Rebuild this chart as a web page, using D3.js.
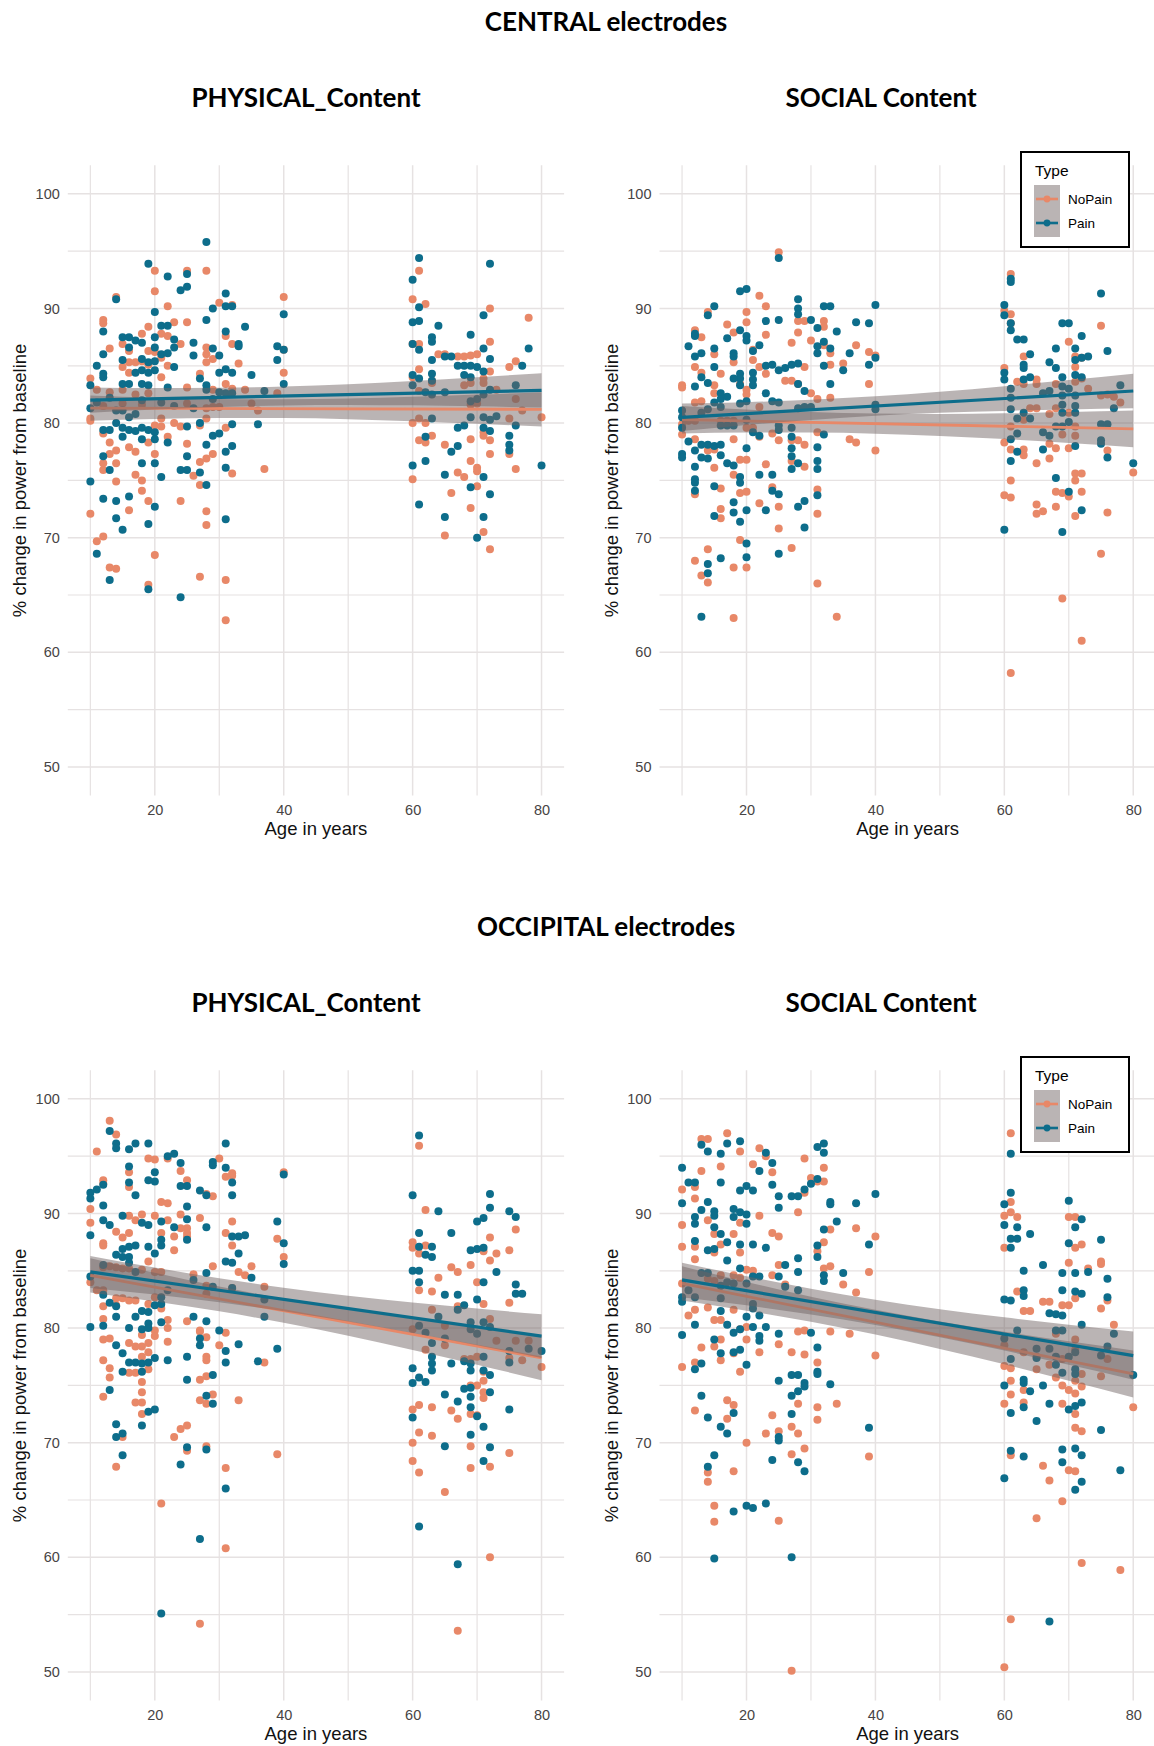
<!DOCTYPE html>
<html>
<head>
<meta charset="utf-8">
<script src="https://cdn.jsdelivr.net/npm/d3@7"></script>
<style>
  body { margin: 0; background: #fff; }
  svg { display: block; }
</style>
</head>
<body>
<div id="chart"></div>
<script>
// ---- values: [age, % change] ----
var rowTitles = ["CENTRAL electrodes", "OCCIPITAL electrodes"];
var panelTitles = ["PHYSICAL_Content", "SOCIAL Content"];
var groups = ["NoPain", "Pain"];
var ageTicks = [20, 40, 60, 80];
var ageMinor = [10, 30, 50, 70];
var valueTicks = [50, 60, 70, 80, 90, 100];
var valueMinor = [55, 65, 75, 85, 95];

var centralPhysicalPain = [[28,95.8],[19,93.9],[22,92.8],[25,93.0],[25,91.9],[24,91.6],[14,90.8],[31,91.3],[29,90.0],[31,90.2],[32,90.2],[20,89.7],[40,89.5],[28,89.0],[34,88.4],[21,88.5],[22,88.5],[12,88.0],[15,87.5],[16,87.5],[20,87.5],[31,88.0],[17,87.2],[18,87.0],[23,87.3],[23,86.6],[26,87.0],[33,86.9],[33,86.7],[29,86.5],[39,86.7],[40,86.4],[16,86.6],[20,86.6],[30,85.9],[12,86.0],[26,85.9],[18,85.6],[19,85.3],[20,85.4],[15,85.5],[21,86.0],[22,86.1],[11,85.0],[23,84.9],[31,84.7],[30,84.4],[39,85.5],[32,84.4],[35,84.2],[17,84.4],[18,84.6],[19,84.4],[20,84.6],[12,84.3],[12,84.0],[27,83.9],[15,83.4],[16,83.4],[18,83.4],[19,83.3],[10,83.3],[22,83.1],[28,83.3],[28,82.9],[31,82.6],[32,82.6],[37,82.8],[40,83.4],[30,82.7],[10,81.3],[14,81.1],[15,81.1],[16,80.5],[17,80.8],[12,79.4],[13,79.4],[14,80.0],[15,79.6],[16,79.4],[17,79.3],[18,79.6],[19,79.4],[20,79.2],[25,79.7],[27,80.0],[32,79.9],[36,79.9],[15,78.8],[18,78.6],[20,78.6],[22,78.3],[29,78.9],[30,79.1],[28,78.1],[32,78.0],[31,77.5],[25,77.1],[12,77.1],[18,76.5],[20,76.5],[24,75.9],[25,75.9],[27,75.7],[31,76.1],[13,75.9],[21,75.3],[28,74.6],[10,74.9],[12,73.4],[14,73.2],[16,73.6],[20,72.7],[14,71.7],[15,70.7],[19,71.2],[31,71.6],[11,68.6],[13,66.3],[19,65.5],[24,64.8],[11,81.8],[13,82.2],[18,82.0],[21,81.8],[23,81.5],[26,81.3],[29,82.1],
  [61,94.4],[60,92.5],[72,93.9],[61,90.1],[60,88.8],[61,88.9],[71,89.4],[64,88.5],[69,87.7],[60,86.9],[61,86.4],[63,87.5],[63,87.1],[71,86.5],[72,85.6],[78,86.5],[63,85.5],[65,85.8],[66,85.8],[67,85.0],[68,85.0],[69,85.0],[70,84.9],[77,85.0],[60,84.2],[61,83.9],[63,84.3],[63,83.7],[68,84.2],[69,84.0],[71,84.5],[60,83.3],[76,83.3],[62,82.7],[63,82.5],[65,82.7],[69,81.9],[70,82.1],[71,82.5],[72,82.9],[73,80.6],[69,80.5],[71,80.5],[72,80.3],[63,80.4],[76,79.8],[67,79.6],[68,79.8],[62,78.8],[71,79.6],[72,79.3],[75,78.9],[75,78.1],[75,77.6],[66,77.5],[67,78.0],[62,76.7],[60,76.3],[80,76.3],[65,75.5],[71,75.3],[69,74.4],[72,73.8],[61,72.9],[65,71.8],[71,71.8],[70,70.0]];

var centralPhysicalNoPain = [[28,93.3],[20,93.3],[25,93.3],[20,91.5],[14,91.0],[40,91.0],[22,90.2],[30,90.5],[32,90.3],[12,89.0],[12,88.7],[25,88.8],[19,88.4],[23,88.8],[18,87.8],[15,86.9],[21,87.8],[22,87.6],[13,86.5],[28,86.6],[28,86.0],[31,87.6],[32,86.9],[24,86.9],[16,86.3],[19,86.3],[20,86.2],[40,86.4],[29,85.6],[15,84.9],[16,85.3],[17,85.3],[18,85.4],[19,85.1],[21,85.7],[22,85.0],[28,85.3],[33,85.2],[16,84.4],[21,84.0],[27,84.3],[10,83.9],[40,84.4],[31,83.4],[11,82.9],[13,82.7],[15,82.9],[17,82.5],[19,82.6],[25,83.1],[29,82.9],[32,83.0],[34,82.9],[12,81.5],[15,81.7],[18,81.6],[25,81.7],[28,81.3],[29,81.4],[30,81.4],[35,81.7],[36,81.1],[39,82.6],[10,80.4],[10,80.2],[12,79.1],[21,80.4],[21,79.7],[22,78.8],[23,80.0],[24,79.7],[20,79.8],[27,79.8],[28,80.4],[31,79.6],[13,78.3],[14,77.6],[13,77.3],[16,77.9],[17,77.5],[19,78.3],[20,77.3],[12,76.5],[12,75.9],[14,76.5],[25,78.2],[27,76.6],[28,76.9],[29,77.3],[37,76.0],[32,75.6],[17,75.5],[18,75.0],[26,75.4],[27,74.6],[14,74.9],[18,74.1],[24,73.2],[19,73.2],[16,72.4],[28,72.3],[28,71.1],[10,72.1],[11,69.7],[12,70.1],[20,68.5],[13,67.4],[14,67.3],[27,66.6],[31,66.3],[19,65.9],[31,62.8],
  [61,93.3],[72,90.0],[62,90.4],[60,90.8],[78,89.2],[60,86.9],[61,86.9],[72,87.1],[64,86.0],[65,86.0],[67,85.8],[68,85.8],[69,85.9],[70,86.0],[75,84.9],[76,85.4],[61,84.7],[72,84.5],[63,83.7],[63,83.5],[60,84.0],[61,82.8],[68,83.3],[69,83.5],[71,83.9],[71,83.5],[73,82.9],[76,82.1],[77,81.1],[69,81.6],[70,81.7],[60,80.0],[61,80.4],[62,80.0],[80,80.5],[75,80.4],[71,79.2],[71,78.9],[72,78.5],[61,78.5],[62,78.3],[63,78.9],[69,78.6],[65,78.1],[76,76.0],[67,75.7],[68,75.3],[69,76.7],[70,76.1],[70,75.8],[60,75.1],[72,77.3],[75,77.3],[66,73.9],[70,74.5],[69,72.6],[71,70.5],[65,70.2],[72,69.0]];

var centralSocialPain = [[25,94.4],[19,91.5],[20,91.7],[15,90.2],[14,89.4],[28,90.8],[28,90.0],[28,89.5],[32,90.2],[33,90.2],[40,90.3],[25,89.0],[23,88.9],[30,89.0],[37,88.8],[39,88.7],[31,88.3],[12,87.8],[12,87.6],[19,88.1],[20,87.6],[20,87.2],[17,87.4],[32,87.1],[34,88.0],[11,86.7],[22,86.8],[15,86.5],[21,86.3],[31,86.7],[31,86.1],[33,86.5],[12,85.8],[13,86.1],[18,86.1],[18,85.8],[36,86.1],[15,84.9],[23,85.0],[24,85.1],[25,84.6],[26,84.8],[27,85.1],[28,85.2],[32,85.0],[39,85.1],[40,85.7],[35,84.6],[13,84.0],[12,83.2],[19,84.3],[19,83.9],[19,83.3],[21,84.4],[21,83.8],[21,83.3],[14,83.5],[18,83.9],[16,82.6],[16,82.1],[17,82.3],[28,83.4],[29,82.8],[33,83.4],[23,82.6],[20,81.9],[19,81.7],[24,81.9],[25,81.8],[15,81.8],[16,81.4],[10,81.1],[10,80.5],[14,81.2],[13,80.9],[28,81.3],[29,81.4],[30,81.4],[40,81.6],[40,81.2],[16,79.8],[17,79.8],[18,79.8],[20,80.3],[25,79.8],[25,79.4],[21,79.2],[27,79.6],[27,78.8],[32,79.0],[10,79.6],[10,77.3],[10,77.0],[11,78.4],[12,77.6],[13,78.1],[14,78.1],[15,78.0],[16,78.1],[20,77.8],[22,78.9],[27,77.8],[27,77.1],[31,77.9],[31,76.7],[31,76.0],[12,76.2],[13,77.0],[14,76.9],[16,77.2],[17,76.5],[18,76.3],[19,75.3],[19,74.8],[22,75.5],[24,75.5],[27,76.0],[28,76.5],[15,74.5],[12,75.1],[12,74.8],[12,74.1],[24,74.1],[25,73.8],[31,73.7],[18,73.1],[15,71.9],[18,72.2],[19,71.4],[20,72.4],[23,72.4],[28,72.7],[29,73.2],[29,70.9],[20,69.5],[20,68.3],[14,67.7],[14,66.9],[16,68.2],[25,68.6],[13,63.1],
  [61,92.6],[61,92.3],[60,90.3],[60,89.4],[75,91.3],[61,88.7],[61,88.1],[69,88.7],[70,88.7],[62,87.3],[63,87.3],[72,87.6],[76,86.3],[68,86.5],[64,86.0],[71,86.5],[71,85.5],[73,85.8],[72,85.7],[63,85.1],[63,84.8],[67,85.3],[68,84.8],[60,84.4],[60,83.8],[64,84.0],[63,83.8],[69,84.0],[71,84.2],[78,83.3],[72,84.0],[61,83.0],[61,82.2],[61,81.2],[66,82.6],[67,82.8],[69,83.2],[69,82.4],[69,81.6],[69,80.9],[70,83.0],[71,82.4],[71,81.5],[71,80.9],[63,80.9],[64,80.4],[62,80.4],[77,81.3],[75,79.9],[76,79.9],[61,78.6],[62,79.1],[66,79.2],[67,78.9],[68,79.7],[69,79.7],[70,80.1],[71,78.0],[75,78.5],[75,78.2],[76,77.0],[61,76.7],[62,77.5],[66,77.7],[68,75.2],[70,74.0],[72,72.4],[69,70.5],[60,70.7],[80,76.5]];

var centralSocialNoPain = [[25,94.9],[22,91.1],[23,90.2],[14,89.7],[20,89.7],[28,88.9],[29,88.9],[32,88.9],[32,88.4],[17,88.6],[18,87.9],[23,87.7],[12,88.1],[13,87.5],[20,88.8],[27,87.0],[28,87.9],[30,87.2],[32,86.8],[33,86.1],[37,86.8],[39,86.2],[40,85.9],[15,86.0],[21,86.4],[21,85.5],[18,85.3],[12,84.9],[13,84.4],[16,84.3],[22,84.9],[23,84.3],[29,84.9],[33,85.1],[35,85.2],[27,83.7],[28,83.4],[10,83.3],[10,83.1],[15,83.3],[15,82.6],[19,83.4],[20,82.9],[20,82.5],[30,82.6],[39,83.4],[12,81.8],[13,81.9],[22,81.4],[26,83.7],[31,82.1],[33,82.2],[10,79.9],[10,79.0],[11,80.2],[12,80.2],[16,80.2],[17,80.2],[18,80.2],[20,79.6],[21,79.6],[22,78.8],[24,79.1],[25,78.5],[27,78.5],[28,78.5],[29,78.1],[31,79.2],[36,78.6],[37,78.3],[40,77.6],[12,78.6],[14,77.6],[15,77.7],[15,76.1],[18,78.6],[18,75.5],[19,76.8],[20,76.8],[23,76.4],[24,74.4],[25,72.7],[27,76.7],[29,76.2],[12,73.8],[16,74.3],[19,73.9],[20,74.0],[22,73.0],[25,70.8],[31,74.2],[31,72.1],[16,72.5],[16,71.7],[19,69.8],[27,69.1],[12,68.0],[13,66.7],[14,69.0],[14,66.1],[18,67.4],[20,67.4],[31,66.0],[18,63.0],[34,63.1],
  [61,93.0],[61,89.5],[61,88.7],[60,89.8],[75,88.5],[70,87.1],[63,85.8],[71,85.8],[71,84.9],[71,83.6],[72,85.7],[72,83.9],[60,84.8],[62,83.6],[65,83.8],[65,83.4],[63,83.4],[68,83.4],[73,83.0],[76,82.5],[77,82.3],[78,81.8],[75,82.4],[64,81.3],[65,81.3],[67,80.8],[61,79.7],[63,80.3],[68,81.3],[69,79.0],[70,80.9],[71,79.7],[71,78.9],[60,78.3],[61,77.7],[63,77.7],[63,77.2],[67,78.2],[68,77.8],[70,77.8],[65,76.5],[67,76.9],[76,77.6],[71,75.6],[71,75.0],[72,75.6],[80,75.7],[61,75.0],[68,74.0],[69,73.9],[70,73.6],[60,73.7],[61,73.5],[68,72.7],[65,72.9],[65,72.1],[66,72.3],[71,71.9],[76,72.2],[72,74.0],[75,68.6],[69,64.7],[72,61.0],[61,58.2]];

var occipitalPhysicalPain = [[13,97.2],[14,96.1],[14,95.7],[17,96.1],[16,95.6],[19,96.1],[31,96.1],[22,95.0],[23,95.2],[29,94.5],[29,94.2],[31,94.0],[16,94.1],[16,92.7],[20,93.6],[20,92.8],[19,92.9],[24,94.4],[32,92.7],[40,93.4],[24,92.4],[25,92.4],[10,91.8],[10,91.3],[11,92.1],[12,92.5],[17,91.6],[27,92.0],[28,91.6],[32,91.6],[12,90.7],[25,90.6],[15,89.8],[10,88.1],[12,89.4],[13,89.0],[18,89.2],[19,89.0],[21,89.3],[25,89.5],[23,88.8],[28,88.8],[39,89.3],[32,88.0],[33,88.0],[34,88.1],[40,87.4],[15,86.9],[16,87.1],[17,87.2],[19,87.1],[21,87.7],[21,87.2],[25,87.7],[14,86.4],[20,86.5],[15,86.2],[16,86.2],[16,85.7],[31,85.8],[32,85.7],[33,86.5],[40,85.6],[10,84.5],[12,85.5],[17,84.9],[28,84.8],[35,84.4],[12,82.9],[13,82.2],[14,81.9],[14,81.0],[17,81.0],[18,81.5],[19,81.4],[19,80.4],[21,82.7],[21,82.1],[22,83.3],[20,82.0],[26,84.2],[29,83.6],[32,83.5],[37,82.5],[37,81.0],[10,80.1],[12,80.2],[16,80.0],[18,79.9],[19,80.0],[21,80.5],[26,81.0],[28,80.6],[14,78.5],[15,77.8],[15,76.2],[16,77.0],[17,77.0],[18,76.9],[19,77.0],[20,77.4],[22,77.2],[25,77.5],[27,79.1],[27,78.5],[30,79.8],[31,78.0],[31,77.0],[33,78.6],[39,78.2],[36,77.1],[18,76.2],[25,75.5],[28,74.1],[29,73.4],[29,75.9],[13,74.6],[19,72.7],[20,72.9],[18,71.5],[14,71.6],[14,70.5],[15,70.8],[25,69.6],[28,69.4],[24,68.1],[15,68.9],[31,66.0],[27,61.6],[21,55.1],
  [61,96.8],[60,91.6],[72,91.7],[72,90.5],[75,90.2],[76,89.7],[64,90.2],[70,89.3],[71,89.6],[61,88.3],[66,88.3],[69,86.8],[70,86.9],[71,87.0],[61,87.1],[63,87.1],[62,86.4],[63,86.2],[60,85.0],[61,85.0],[61,84.0],[73,84.9],[76,83.8],[76,83.0],[77,83.0],[71,84.0],[65,82.9],[67,82.9],[70,82.5],[68,82.0],[67,81.6],[64,81.0],[61,80.2],[62,79.6],[63,78.7],[69,80.5],[69,79.9],[70,79.5],[71,80.5],[72,80.1],[65,79.1],[78,78.2],[80,78.0],[75,78.0],[63,77.5],[63,76.9],[63,76.3],[71,77.5],[71,76.3],[72,75.9],[68,77.1],[69,76.9],[69,76.3],[66,76.9],[60,76.5],[60,75.2],[61,75.7],[62,75.3],[75,77.0],[69,74.8],[68,74.7],[65,74.2],[67,73.6],[69,74.0],[69,73.1],[72,74.4],[60,72.2],[70,72.3],[75,72.9],[71,71.4],[65,69.7],[69,70.7],[71,68.4],[72,69.6],[61,62.7],[67,59.4]];

var occipitalPhysicalNoPain = [[13,98.1],[14,96.9],[11,95.4],[19,94.8],[20,94.7],[22,94.8],[30,94.8],[32,93.3],[31,93.2],[32,93.5],[40,93.6],[12,92.9],[12,92.6],[16,93.6],[16,92.3],[25,92.9],[24,93.7],[28,91.7],[29,91.5],[10,90.4],[10,89.2],[21,91.0],[22,90.9],[16,89.8],[17,89.4],[18,89.9],[20,89.8],[24,89.9],[25,88.7],[27,89.6],[12,87.4],[12,87.2],[14,88.4],[15,87.9],[16,88.3],[21,88.3],[22,89.4],[23,88.0],[24,88.7],[25,88.3],[25,88.0],[31,88.3],[32,89.3],[32,87.2],[39,87.8],[19,85.8],[23,86.8],[33,84.9],[34,84.6],[35,85.4],[29,85.4],[40,86.2],[12,85.3],[13,85.4],[14,85.3],[15,85.2],[16,85.2],[18,85.1],[20,84.9],[21,84.9],[26,84.7],[10,84.0],[11,83.3],[12,83.3],[15,82.6],[16,82.4],[17,82.4],[14,82.6],[14,82.0],[19,82.1],[20,82.7],[21,81.7],[22,80.7],[22,80.0],[25,80.6],[28,83.7],[28,83.0],[32,83.5],[37,83.6],[27,79.7],[12,81.9],[12,80.8],[12,79.0],[13,79.1],[16,78.7],[18,79.4],[19,78.7],[20,79.8],[20,79.3],[17,78.4],[12,77.2],[13,76.5],[13,75.7],[12,74.0],[18,78.4],[19,77.9],[18,77.5],[19,76.4],[22,78.8],[27,79.8],[28,79.2],[30,78.5],[31,79.6],[28,77.5],[28,77.2],[37,77.0],[16,76.1],[17,76.1],[18,75.3],[18,74.4],[18,73.5],[17,73.5],[18,72.5],[27,75.5],[28,75.8],[27,73.7],[28,73.4],[29,74.2],[33,73.7],[15,70.5],[23,70.5],[24,71.2],[25,71.5],[28,69.7],[25,69.3],[39,69.0],[14,67.9],[31,67.8],[21,64.7],[31,60.8],[27,54.2],
  [61,95.9],[62,90.3],[76,88.6],[72,87.9],[60,87.5],[60,87.0],[61,86.5],[62,87.2],[71,86.7],[69,85.5],[72,85.9],[75,86.8],[73,86.5],[66,85.3],[67,84.9],[70,84.0],[63,83.2],[61,83.3],[64,84.4],[75,82.2],[71,82.1],[67,81.9],[72,80.8],[60,79.9],[65,80.2],[63,81.6],[62,78.1],[65,78.5],[73,78.9],[76,78.9],[78,78.9],[68,77.3],[69,77.3],[70,77.5],[75,77.4],[77,77.2],[80,76.6],[71,76.2],[71,75.4],[71,74.4],[69,75.0],[70,75.0],[71,73.9],[61,73.3],[63,73.1],[66,72.8],[67,72.1],[69,72.5],[70,72.4],[60,72.9],[60,70.0],[61,70.9],[63,70.6],[69,69.7],[72,67.9],[69,67.8],[60,68.4],[61,67.4],[75,69.1],[65,65.7],[72,60.0],[67,53.6]];

var occipitalSocialPain = [[13,96.0],[14,95.4],[17,96.1],[19,96.3],[32,96.1],[32,95.3],[31,95.8],[23,95.3],[10,94.0],[16,95.2],[22,93.7],[24,94.4],[11,92.7],[12,92.7],[16,92.7],[20,92.4],[21,92.0],[19,92.0],[24,92.5],[25,91.5],[25,90.5],[27,91.5],[28,91.5],[29,92.1],[30,92.6],[31,93.0],[33,91.0],[33,90.8],[37,90.9],[40,91.7],[10,90.9],[13,90.3],[14,91.0],[15,90.2],[15,89.8],[18,90.4],[18,89.7],[19,90.1],[20,89.9],[20,89.1],[12,89.7],[12,89.1],[34,89.3],[15,88.8],[16,88.2],[17,87.5],[14,86.8],[15,86.9],[19,87.3],[21,87.3],[23,87.0],[12,87.6],[28,86.1],[28,84.9],[31,87.2],[31,86.2],[32,88.6],[39,87.3],[17,85.9],[19,85.2],[26,85.5],[32,84.6],[32,84.1],[35,84.8],[21,84.5],[22,84.5],[13,84.8],[14,84.8],[11,83.3],[12,82.7],[10,82.7],[10,82.3],[16,83.7],[18,83.9],[17,84.0],[16,82.6],[16,81.5],[17,80.3],[20,83.9],[21,82.1],[21,81.7],[20,81.0],[22,81.1],[21,80.1],[18,79.6],[19,79.9],[25,84.5],[26,83.6],[28,83.3],[10,79.4],[12,80.3],[15,79.0],[16,77.8],[22,79.3],[22,78.9],[23,80.1],[25,79.5],[30,79.6],[31,78.3],[31,76.2],[31,76.0],[18,77.9],[19,78.1],[20,76.8],[13,76.9],[12,76.4],[25,75.4],[27,75.9],[28,75.9],[29,75.2],[29,74.9],[28,74.5],[27,74.1],[33,75.1],[13,74.1],[14,72.2],[16,71.4],[17,70.8],[18,72.6],[27,72.5],[39,71.3],[25,70.5],[25,70.2],[15,68.9],[14,67.9],[24,68.5],[28,68.3],[29,67.5],[18,64.0],[20,64.5],[21,64.3],[23,64.7],[15,59.9],[27,60.0],
  [61,95.2],[61,91.8],[60,90.8],[70,91.1],[60,89.0],[62,88.8],[72,89.5],[71,88.8],[64,88.2],[61,87.8],[62,87.8],[61,87.0],[70,87.4],[75,87.7],[66,85.5],[63,85.0],[73,84.9],[69,84.8],[71,84.8],[76,84.3],[63,83.3],[63,82.8],[69,83.3],[71,83.2],[72,83.0],[60,82.5],[61,82.4],[76,82.7],[67,81.3],[68,81.2],[69,81.1],[72,80.3],[62,79.8],[68,79.8],[69,79.8],[60,79.1],[65,78.2],[65,77.4],[67,78.2],[68,77.5],[70,77.5],[71,77.9],[71,76.4],[77,79.5],[75,77.6],[61,77.3],[63,75.5],[63,75.2],[66,75.0],[64,74.5],[76,78.4],[60,75.0],[80,75.9],[68,76.8],[69,76.1],[71,76.0],[67,73.4],[70,72.9],[71,73.2],[72,73.5],[63,73.1],[61,72.6],[65,71.9],[75,71.1],[61,69.3],[63,68.8],[69,69.4],[69,68.3],[71,69.5],[72,68.9],[60,66.9],[71,65.9],[72,66.6],[78,67.6],[67,54.4]];

var occipitalSocialNoPain = [[17,97.0],[13,96.5],[14,96.5],[22,95.7],[19,95.4],[29,94.8],[16,94.1],[21,94.3],[24,93.6],[13,93.7],[10,92.1],[12,92.3],[31,92.8],[32,92.8],[32,94.0],[23,95.0],[30,93.1],[29,91.8],[28,90.1],[10,89.0],[14,89.4],[15,88.2],[12,91.3],[19,89.2],[22,89.8],[24,88.3],[25,88.0],[18,88.2],[10,87.1],[12,87.1],[16,87.3],[15,86.6],[19,86.6],[32,87.5],[31,86.7],[33,88.6],[37,88.7],[40,88.0],[12,86.0],[25,85.5],[32,85.2],[33,85.4],[39,84.9],[35,83.8],[37,83.1],[10,83.9],[14,84.3],[15,84.1],[16,84.6],[18,84.6],[19,84.4],[20,85.1],[21,85.0],[24,84.6],[26,83.8],[11,81.1],[12,81.6],[14,81.8],[15,80.7],[16,80.7],[18,81.6],[20,80.1],[19,79.9],[20,79.0],[22,77.9],[28,79.7],[29,79.8],[33,79.7],[36,79.5],[40,77.6],[10,76.6],[12,77.0],[13,78.3],[15,78.4],[16,77.2],[16,79.0],[18,77.8],[19,76.2],[25,78.6],[27,77.9],[29,77.7],[31,77.0],[31,73.1],[31,72.0],[34,73.4],[28,73.4],[12,72.8],[17,73.7],[18,73.3],[17,72.1],[24,72.4],[23,70.8],[25,71.0],[27,71.4],[27,69.0],[28,70.8],[29,69.5],[20,70.0],[18,67.5],[14,67.4],[14,66.6],[39,68.8],[15,64.5],[15,63.1],[25,63.2],[27,50.1],
  [61,97.0],[61,90.1],[61,91.0],[60,89.8],[62,89.7],[70,89.7],[71,89.7],[60,87.0],[71,87.0],[72,87.3],[70,85.7],[75,85.8],[75,85.6],[73,85.2],[62,83.2],[71,82.6],[66,82.3],[67,82.3],[76,82.4],[63,81.5],[64,81.5],[75,81.7],[69,82.0],[70,82.0],[77,80.3],[68,79.5],[63,77.9],[65,77.5],[71,79.0],[71,78.1],[60,78.5],[69,77.3],[76,77.3],[75,75.8],[60,76.7],[61,76.5],[65,76.4],[67,76.8],[68,75.7],[69,75.0],[70,74.6],[71,75.4],[71,74.3],[72,76.0],[72,74.9],[61,75.4],[61,74.2],[63,74.6],[63,73.5],[60,73.4],[69,73.4],[71,72.5],[71,71.3],[72,71.0],[80,73.1],[61,68.9],[66,68.0],[67,66.7],[70,67.6],[71,67.5],[69,64.9],[65,63.4],[72,59.5],[78,58.9],[61,54.6],[60,50.4]];

// fitted lines (value at age 10 and age 80), panel order TL, TR, BL, BR
var fitAges = [10, 80];
var fitNoPain = [[81.3, 81.2], [80.3, 79.5], [84.6, 77.4], [83.9, 76.0]];
var fitPain = [[82.0, 82.85], [80.5, 82.8], [84.9, 79.3], [84.2, 77.6]];
// half-width of the confidence band at these ages
var bandAges = [10, 20, 30, 40, 50, 60, 70, 80];
var bandNoPain = [
  [1.1, 0.93, 0.83, 0.82, 0.9, 1.06, 1.27, 1.5],
  [1.2, 1.0, 0.9, 0.88, 0.96, 1.12, 1.35, 1.6],
  [1.5, 1.25, 1.08, 1.05, 1.15, 1.36, 1.63, 1.95],
  [1.5, 1.26, 1.1, 1.08, 1.2, 1.42, 1.72, 2.05]];
var bandPain = [
  [1.1, 0.93, 0.83, 0.82, 0.9, 1.06, 1.27, 1.5],
  [1.2, 1.0, 0.88, 0.85, 0.92, 1.08, 1.28, 1.5],
  [1.4, 1.18, 1.05, 1.02, 1.12, 1.33, 1.6, 1.9],
  [1.5, 1.27, 1.12, 1.1, 1.22, 1.45, 1.75, 2.1]];

// ---- layout ----
var svgWidth = 1154, svgHeight = 1746;
var colors = { NoPain: "#e88868", Pain: "#0d6d8b" };
var bandFill = "#6f6363", bandOpacity = 0.48;
var rowOffset = 905;
var panelLeft = [67.8, 659.5];
var panelWidth = 496.3;
var panelTop = 165.2, panelHeight = 630.4;
var axisFont = "'Liberation Sans', Arial, Helvetica, sans-serif";
var titleFont = "Lato, 'Open Sans', sans-serif";

var svg = d3.select("#chart")
  .append("svg")
  .attr("width", svgWidth)
  .attr("height", svgHeight);

svg.append("rect").attr("width", svgWidth).attr("height", svgHeight).attr("fill", "#fff");

var panels = [
  { row: 0, col: 0, noPain: centralPhysicalNoPain, pain: centralPhysicalPain },
  { row: 0, col: 1, noPain: centralSocialNoPain, pain: centralSocialPain },
  { row: 1, col: 0, noPain: occipitalPhysicalNoPain, pain: occipitalPhysicalPain },
  { row: 1, col: 1, noPain: occipitalSocialNoPain, pain: occipitalSocialPain }
];

// row titles and panel titles
rowTitles.forEach(function (t, r) {
  svg.append("text")
    .attr("x", 606).attr("y", 31 + r * rowOffset)
    .attr("text-anchor", "middle")
    .style("font-family", titleFont).style("font-weight", "bold")
    .style("font-size", "26px")
    .text(t);
  panelTitles.forEach(function (p, c) {
    svg.append("text")
      .attr("x", c === 0 ? 306 : 881).attr("y", 107 + r * rowOffset)
      .attr("text-anchor", "middle")
      .style("font-family", titleFont).style("font-weight", "bold")
      .style("font-size", "26px")
      .text(p);
  });
});

panels.forEach(function (p, i) {
  var left = panelLeft[p.col];
  var top = panelTop + p.row * rowOffset;

  var x = d3.scaleLinear().domain([6.5, 83.5]).range([left, left + panelWidth]);
  var y = d3.scaleLinear().domain([47.5, 102.5]).range([top + panelHeight, top]);

  var g = svg.append("g");

  // grid lines (minor then major)
  var grid = g.append("g").attr("stroke", "#e6e2e2").attr("fill", "none");
  valueMinor.concat(valueTicks).forEach(function (v) {
    grid.append("line")
      .attr("x1", x.range()[0]).attr("x2", x.range()[1])
      .attr("y1", y(v)).attr("y2", y(v))
      .attr("stroke-width", valueTicks.indexOf(v) >= 0 ? 1.5 : 1.2);
  });
  ageMinor.concat(ageTicks).forEach(function (a) {
    grid.append("line")
      .attr("x1", x(a)).attr("x2", x(a))
      .attr("y1", y.range()[0]).attr("y2", y.range()[1])
      .attr("stroke-width", ageTicks.indexOf(a) >= 0 ? 1.5 : 1.2);
  });

  // axes
  var xAxis = d3.axisBottom(x).tickValues(ageTicks).tickSize(0).tickPadding(9);
  var yAxis = d3.axisLeft(y).tickValues(valueTicks).tickSize(0).tickPadding(8);

  var xg = g.append("g").attr("transform", "translate(0," + (top + panelHeight) + ")").call(xAxis);
  var yg = g.append("g").attr("transform", "translate(" + left + ",0)").call(yAxis);
  [xg, yg].forEach(function (ax) {
    ax.select(".domain").remove();
    ax.selectAll("text")
      .style("font-family", axisFont)
      .style("font-size", "14.5px")
      .attr("fill", "#474444");
  });

  g.append("text")
    .attr("x", left + panelWidth / 2)
    .attr("y", 835 + p.row * rowOffset)
    .attr("text-anchor", "middle")
    .style("font-family", axisFont).style("font-size", "18.5px")
    .attr("fill", "#111")
    .text("Age in years");

  g.append("text")
    .attr("transform", "translate(" + (left - 48) + "," + (top + panelHeight / 2) + ") rotate(-90)")
    .attr("text-anchor", "middle")
    .attr("dominant-baseline", "central")
    .style("font-family", axisFont).style("font-size", "18.5px")
    .attr("fill", "#111")
    .text("% change in power from baseline");

  // points
  [["NoPain", p.noPain], ["Pain", p.pain]].forEach(function (s) {
    g.append("g").selectAll("circle")
      .data(s[1])
      .enter()
      .append("circle")
      .attr("cx", d => x(d[0]))
      .attr("cy", d => y(d[1]))
      .attr("r", 4)
      .attr("fill", colors[s[0]]);
  });

  // smooth: band then line, NoPain first
  [["NoPain", fitNoPain[i], bandNoPain[i]], ["Pain", fitPain[i], bandPain[i]]].forEach(function (s) {
    var fit = d3.scaleLinear().domain(fitAges).range(s[1]);
    var band = bandAges.map(function (a, k) { return { age: a, mid: fit(a), hw: s[2][k] }; });

    var area = d3.area()
      .x(d => x(d.age))
      .y0(d => y(d.mid - d.hw))
      .y1(d => y(d.mid + d.hw))
      .curve(d3.curveMonotoneX);

    g.append("path")
      .datum(band)
      .attr("d", area)
      .attr("fill", bandFill)
      .attr("fill-opacity", bandOpacity);

    g.append("line")
      .attr("x1", x(fitAges[0])).attr("y1", y(s[1][0]))
      .attr("x2", x(fitAges[1])).attr("y2", y(s[1][1]))
      .attr("stroke", colors[s[0]])
      .attr("stroke-width", s[0] === "Pain" ? 3.2 : 2.8);
  });

  // legend on the right-hand panels
  if (p.col === 1) {
    var lg = svg.append("g").attr("transform", "translate(1021," + (152 + p.row * rowOffset) + ")");
    lg.append("rect")
      .attr("width", 108).attr("height", 95)
      .attr("fill", "#fff").attr("stroke", "#000").attr("stroke-width", 2);
    lg.append("text")
      .attr("x", 14).attr("y", 24)
      .style("font-family", axisFont).style("font-size", "15.5px")
      .text("Type");
    lg.append("rect")
      .attr("x", 13).attr("y", 33).attr("width", 26).attr("height", 52)
      .attr("fill", bandFill).attr("fill-opacity", bandOpacity);
    groups.forEach(function (k, j) {
      var ky = 47 + j * 24;
      lg.append("line")
        .attr("x1", 15).attr("x2", 37).attr("y1", ky).attr("y2", ky)
        .attr("stroke", colors[k]).attr("stroke-width", 2.6);
      lg.append("circle")
        .attr("cx", 26).attr("cy", ky).attr("r", 3.4)
        .attr("fill", colors[k]);
      lg.append("text")
        .attr("x", 47).attr("y", ky + 5)
        .style("font-family", axisFont).style("font-size", "13.5px")
        .text(k);
    });
  }
});
</script>
</body>
</html>
